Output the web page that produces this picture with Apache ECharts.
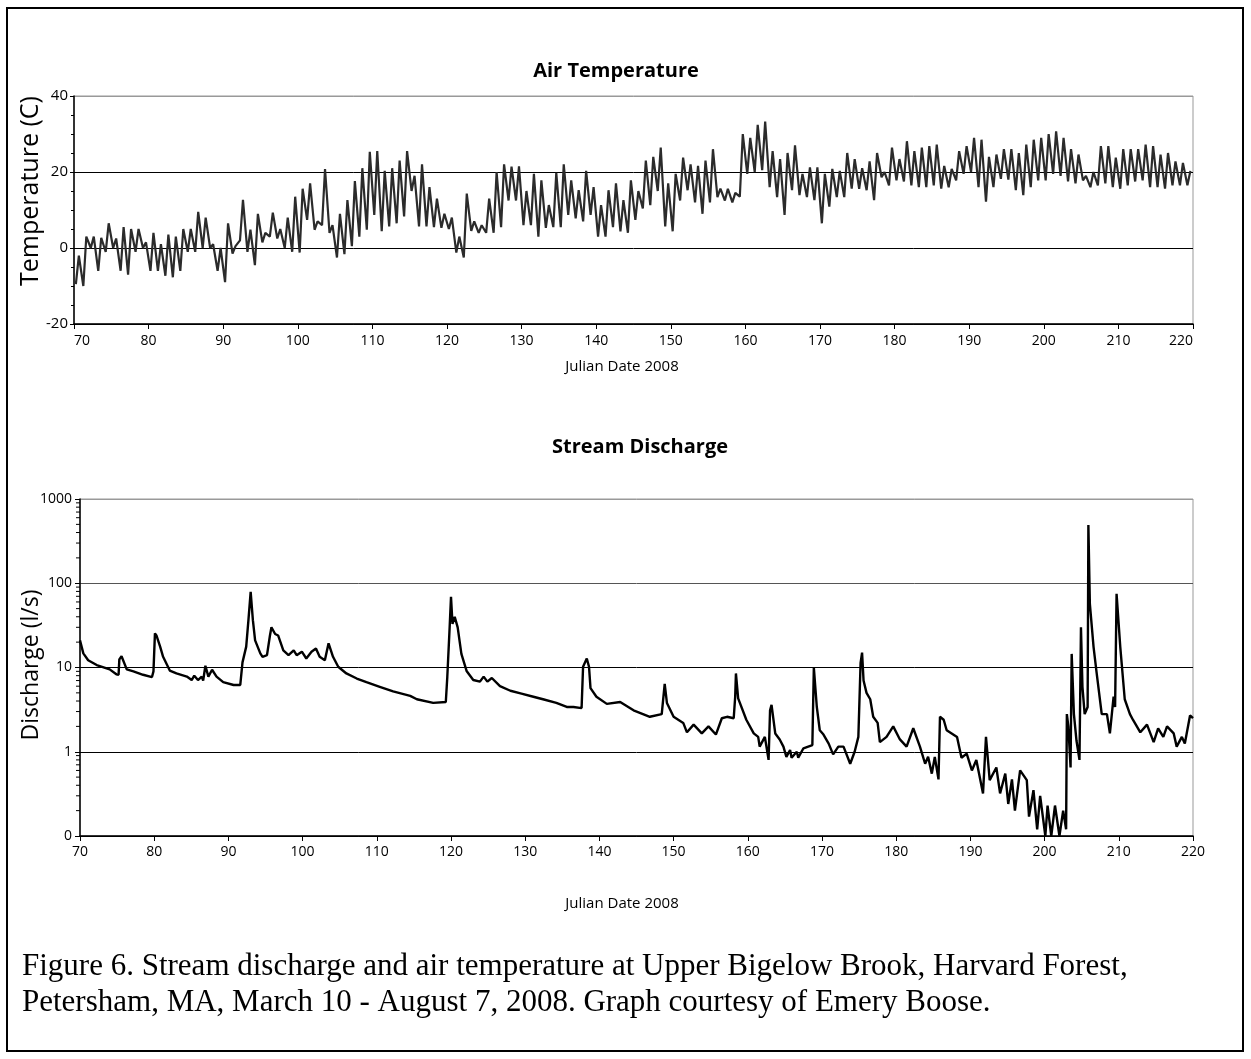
<!DOCTYPE html>
<html>
<head>
<meta charset="utf-8">
<script src="https://cdn.jsdelivr.net/npm/echarts@6/dist/echarts.min.js"></script>
<style>
html, body { margin: 0; padding: 0; background: #fff; }
#chart { width: 1251px; height: 1059px; }
</style>
</head>
<body>
<div id="chart"></div>
<script>
// air temperature: daily low / high, days 70..219
var firstDay = 70;
var tMin = [
  -9.5, -10, 0, -6, -1, 0, -6, -7, -1, 0,
  -6, -6, -7.3, -7.7, -6, -1, -1, 0, 0, -6,
  -9, -1.5, 2, -1, -4.5, 1.5, 3, 2.5, 0, -1,
  -1.2, 7.4, 4.8, 6, 4, -2.5, -1.6, 0.5, 3, 4.8,
  8.7, 4.4, 5.7, 6.5, 8.3, 15, 5.7, 5.7, 5.5, 5.3,
  5, -1.2, -2.5, 4.5, 4, 4, 4, 5.5, 12.5, 12.5,
  6, 6, 3, 5.3, 5.5, 5.5, 8.7, 7.8, 7, 8.7,
  3, 3, 5.5, 4.4, 4, 7.4, 10.4, 11.3, 15, 5.7,
  4.4, 12.5, 15.2, 12, 9, 12, 13.4, 12.5, 12, 13.5,
  19.5, 20, 20.5, 16, 13.4, 8.7, 15.2, 13.9, 13.4, 12.6,
  6.5, 10.9, 13.4, 13.4, 15.6, 15.6, 15.2, 12.6, 18.6, 16.5,
  17.8, 17.5, 16.5, 16, 16, 16.5, 15.6, 16, 17.8, 19.5,
  20, 16, 12.2, 16, 18.2, 18, 15.2, 13.9, 16, 17.8,
  17.8, 19.5, 19, 17.5, 17, 17.8, 16, 16.5, 17, 16,
  15.6, 16.5, 17.5, 17.8, 16, 16, 15.6, 16.5, 16.5, 16.5
];
var tMax = [
  -2, 3, 3, 2.7, 6.5, 2.5, 5.5, 5, 5, 1.5,
  4, 1, 3.5, 3, 5, 5, 9.5, 8, 1, 0,
  6.5, 0.5, 12.7, 4.8, 9, 4, 9.3, 5, 8, 13.5,
  15.6, 17, 7, 20.8, 6, 9, 12.6, 17.6, 21, 25.3,
  25.5, 20.3, 21, 23, 25.5, 19, 22, 16, 13, 9,
  8, 3, 14.3, 7, 6, 13, 20, 22, 21.4, 21.5,
  15, 19.5, 17.8, 11.3, 19.8, 22, 17.8, 15.2, 20.3, 16,
  11.3, 15.2, 17, 12.6, 17.8, 15, 23, 24, 26.4, 17,
  19.5, 23.8, 22, 21.6, 23, 26, 15.6, 15.6, 14.5, 30,
  29, 32.4, 33.3, 25.5, 23.4, 25, 27, 19.5, 21.2, 21.2,
  19.5, 20.8, 20.3, 25, 23.4, 21, 22.8, 25, 20, 26.4,
  23.4, 28.1, 25.5, 26.4, 26.8, 27.2, 21.6, 20.8, 25.5, 26.8,
  29, 28.5, 24, 24.6, 26, 26, 25, 27.2, 28.5, 29,
  30, 30.7, 29, 26, 24.6, 19, 20, 26.8, 26.8, 23.8,
  26, 26, 26, 27.2, 26.8, 24.6, 25, 22.8, 22.4, 20.3
];

// stream discharge (l/s), julian day and value
var qDay = [
  70, 70.45, 71.1, 72.25, 74, 74.9, 75.2, 75.3, 75.6, 76.3, 77.2, 78.5, 79.7, 79.9,
  80.1, 80.3, 80.8, 81.2, 82.1, 83, 84.4, 85.05, 85.4, 85.9, 86.4, 86.6, 86.9, 87.3,
  87.8, 88.4, 89.3, 90.7, 91.6, 91.9, 92.4, 92.7, 93, 93.3, 93.6, 94.3, 94.6, 95.2,
  95.6, 95.8, 96.3, 96.7, 97.4, 98.1, 98.8, 99.2, 99.9, 100.5, 101.2, 101.8, 102.3,
  103, 103.5, 104.1, 104.8, 105.9, 107.3, 108.6, 110.4, 112.2, 114.5, 115.4, 117.6,
  119.3, 119.5, 119.8, 120, 120.2, 120.5, 120.9, 121.4, 122.1, 123, 123.9, 124.4,
  124.9, 125.5, 126.6, 128, 129.5, 131.1, 132.4, 134.2, 135.6, 136.5, 137.6, 137.8,
  138.3, 138.6, 138.8, 139.6, 141, 142.8, 144.6, 146.8, 148.4, 148.8, 149.1, 150,
  151.3, 151.8, 152.7, 153.8, 154.7, 155.7, 156.5, 157.2, 158.1, 158.3, 158.4, 158.7,
  159.8, 160.8, 161.4, 161.6, 162.3, 162.8, 163, 163.2, 163.7, 164.3, 164.8, 165.2,
  165.7, 165.9, 166.6, 166.8, 167.5, 168.7, 168.9, 169.3, 169.7, 170.2, 170.9, 171.5,
  172.2, 172.9, 173.8, 174.4, 174.9, 175.1, 175.2, 175.4, 175.6, 176, 176.5, 176.9,
  177.5, 177.8, 178.7, 179.6, 180.5, 181.4, 182.3, 183.2, 183.9, 184.3, 184.8, 185.2,
  185.7, 185.9, 186.4, 186.8, 188.2, 188.8, 189.5, 190.2, 190.8, 191.7, 192.1, 192.6,
  193.5, 194, 194.7, 195.1, 195.6, 196, 196.7, 197.6, 197.9, 198.5, 199, 199.4, 200.1,
  200.4, 200.9, 201.4, 202, 202.5, 202.9, 203, 203.2, 203.5, 203.65, 203.95, 204.3,
  204.7, 204.9, 205.1, 205.4, 205.8, 205.9, 206.1, 206.6, 207, 207.7, 208.4, 208.8,
  209.3, 209.5, 209.7, 210.2, 210.8, 211.5, 211.9, 212.9, 213.8, 214.7, 215.3, 216,
  216.5, 217.4, 217.8, 218.5, 218.9, 219.6, 220
];
var qVal = [
  21, 14.7, 12.2, 10.7, 9.5, 8.3, 8.2, 12.5, 13.6, 9.5, 9, 8.2, 7.7, 9,
  25.4, 24, 17.7, 13.4, 9.2, 8.5, 7.8, 7.1, 8, 7.1, 7.8, 7, 10.5, 7.8,
  9.4, 7.8, 6.7, 6.2, 6.2, 11.5, 17.7, 36.5, 79, 36.5, 21, 14.7, 13.4, 14,
  24, 30, 25, 24, 16, 14, 16, 14, 15.4, 12.8, 15.4, 16.8, 13.4,
  12.2, 19.4, 13.4, 10.2, 8.5, 7.4, 6.7, 5.9, 5.2, 4.6, 4.2, 3.8,
  3.9, 7.7, 27.8, 69, 33, 40, 30, 14.5, 9.1, 7.1, 6.8, 7.8,
  6.8, 7.5, 6, 5.3, 4.9, 4.5, 4.2, 3.8, 3.4, 3.4, 3.3, 10.2,
  12.8, 10.2, 5.7, 4.5, 3.7, 3.9, 3.1, 2.6, 2.8, 6.4, 3.8, 2.6,
  2.2, 1.7, 2.1, 1.65, 2, 1.6, 2.5, 2.6, 2.5, 4.5, 8.5, 4.3,
  2.4, 1.65, 1.5, 1.15, 1.5, 0.8, 3.1, 3.6, 1.65, 1.4, 1.15, 0.87,
  1.05, 0.85, 1, 0.85, 1.1, 1.2, 10, 3.4, 1.8, 1.6, 1.25, 0.93,
  1.15, 1.15, 0.72, 1, 1.5, 1.5, 11.3, 15, 7, 5, 4.2, 2.6,
  2.2, 1.3, 1.5, 2, 1.4, 1.15, 1.9, 1.15, 0.72, 0.87, 0.55, 0.87,
  0.47, 2.6, 2.4, 1.8, 1.5, 0.85, 0.95, 0.6, 0.8, 0.32, 1.5, 0.46,
  0.65, 0.32, 0.55, 0.24, 0.47, 0.2, 0.6, 0.46, 0.17, 0.35, 0.12, 0.3, 0.1,
  0.23, 0.1, 0.23, 0.1, 0.2, 0.12, 2.8, 2, 0.65, 14.5, 2.8, 1.35,
  0.8, 30, 5.9, 2.8, 3.4, 490, 57, 17.5, 8.8, 2.8, 2.8, 1.65,
  4.5, 3.4, 75, 17.5, 4.2, 2.8, 2.4, 1.7, 2.1, 1.3, 1.9, 1.5,
  2, 1.65, 1.15, 1.5, 1.25, 2.7, 2.5
];

// minor tick values of the log axis (2..9 per decade)
var qMinor = [0.2, 0.3, 0.4, 0.5, 0.6, 0.7, 0.8, 0.9, 2, 3, 4, 5, 6, 7, 8, 9,
  20, 30, 40, 50, 60, 70, 80, 90, 200, 300, 400, 500, 600, 700, 800, 900];

var tempPts = [];
for (var i = 0; i < tMin.length; i++) {
  var d = firstDay + i;
  tempPts.push([d + 0.25, tMin[i]], [d + 0.65, tMax[i]]);
}
var qPts = qDay.map(function (d, k) { return [d, qVal[k]]; });

var font = '"Open Sans", sans-serif';
var black = '#000';

function xAxisOf(idx, margin) {
  return {
    gridIndex: idx, type: 'value', min: 70, max: 220, interval: 10,
    axisLine: { onZero: false, lineStyle: { color: black, width: 1.5 } },
    axisTick: { length: 5, lineStyle: { color: black } },
    axisLabel: { color: black, fontSize: 14, fontFamily: font, margin: margin },
    splitLine: { show: false }
  };
}

var dom = document.getElementById('chart');
var myChart = echarts.init(dom);

var option = {
  animation: false,
  backgroundColor: '#fff',
  grid: [
    { left: 74, top: 96, width: 1119, height: 228, show: true, borderColor: '#999', borderWidth: 1 },
    { left: 80, top: 499, width: 1113, height: 337, show: true, borderColor: '#999', borderWidth: 1 }
  ],
  xAxis: [
    Object.assign(xAxisOf(0, 10), { axisLabel: { color: black, fontSize: 14, fontFamily: font, margin: 10, alignMinLabel: 'left', alignMaxLabel: 'right' } }),
    xAxisOf(1, 9)
  ],
  yAxis: [
    {
      gridIndex: 0, type: 'value', min: -20, max: 40, interval: 20,
      axisLine: { show: true, onZero: false, lineStyle: { color: black, width: 1.5 } },
      axisTick: { show: true, length: 4, lineStyle: { color: black } },
      minorTick: { show: true, splitNumber: 4, length: 3, lineStyle: { color: black } },
      axisLabel: { color: black, fontSize: 15, fontFamily: font, margin: 6 },
      splitLine: { show: true, lineStyle: { color: [black, black, black, '#999'], width: 1 } }
    },
    {
      gridIndex: 1, type: 'log', logBase: 10, min: 0.1, max: 1000,
      axisLine: { show: true, onZero: false, lineStyle: { color: black, width: 1.5 } },
      axisTick: { show: true, length: 5, lineStyle: { color: black } },
      axisLabel: {
        color: black, fontSize: 14, fontFamily: font, margin: 8,
        formatter: function (v) { return v < 1 ? '0' : String(Math.round(v)); }
      },
      splitLine: { show: true, lineStyle: { color: [black, black, black, '#555', '#999'], width: 1 } }
    }
  ],
  series: [
    {
      name: 'Air Temperature', type: 'line', xAxisIndex: 0, yAxisIndex: 0,
      data: tempPts, showSymbol: false,
      lineStyle: { color: '#2b2b2b', width: 2.2 }
    },
    {
      name: 'Stream Discharge', type: 'line', xAxisIndex: 1, yAxisIndex: 1,
      data: qPts, showSymbol: false,
      lineStyle: { color: black, width: 2.4 }
    },
    {
      type: 'custom', xAxisIndex: 1, yAxisIndex: 1, silent: true, clip: false,
      data: qMinor.map(function (v) { return [70, v]; }),
      renderItem: function (params, api) {
        var p = api.coord([api.value(0), api.value(1)]);
        return {
          type: 'line',
          shape: { x1: p[0] - 4, y1: p[1], x2: p[0], y2: p[1] },
          style: { stroke: black, lineWidth: 1 }
        };
      }
    }
  ],
  graphic: [
    { type: 'rect', silent: true, shape: { x: 7, y: 8, width: 1236, height: 1043 },
      style: { fill: null, stroke: black, lineWidth: 2 } },
    { type: 'text', x: 616, y: 71, style: { text: 'Air Temperature', font: 'bold 20px ' + font, fill: black, align: 'center', verticalAlign: 'middle' } },
    { type: 'text', x: 640, y: 447, style: { text: 'Stream Discharge', font: 'bold 20px ' + font, fill: black, align: 'center', verticalAlign: 'middle' } },
    { type: 'text', x: 622, y: 367, style: { text: 'Julian Date 2008', font: '15px ' + font, fill: black, align: 'center', verticalAlign: 'middle' } },
    { type: 'text', x: 622, y: 904, style: { text: 'Julian Date 2008', font: '15px ' + font, fill: black, align: 'center', verticalAlign: 'middle' } },
    { type: 'text', x: 31, y: 191, rotation: Math.PI / 2, style: { text: 'Temperature (C)', font: '25px ' + font, fill: black, align: 'center', verticalAlign: 'middle' } },
    { type: 'text', x: 31, y: 665, rotation: Math.PI / 2, style: { text: 'Discharge (l/s)', font: '23px ' + font, fill: black, align: 'center', verticalAlign: 'middle' } },
    { type: 'text', x: 22, y: 967, style: { text: 'Figure 6. Stream discharge and air temperature at Upper Bigelow Brook, Harvard Forest,', font: '31px "Liberation Serif", serif', fill: black, verticalAlign: 'middle' } },
    { type: 'text', x: 22, y: 1003, style: { text: 'Petersham, MA, March 10 - August 7, 2008. Graph courtesy of Emery Boose.', font: '31px "Liberation Serif", serif', fill: black, verticalAlign: 'middle' } }
  ]
};

myChart.setOption(option);
</script>
</body>
</html>
